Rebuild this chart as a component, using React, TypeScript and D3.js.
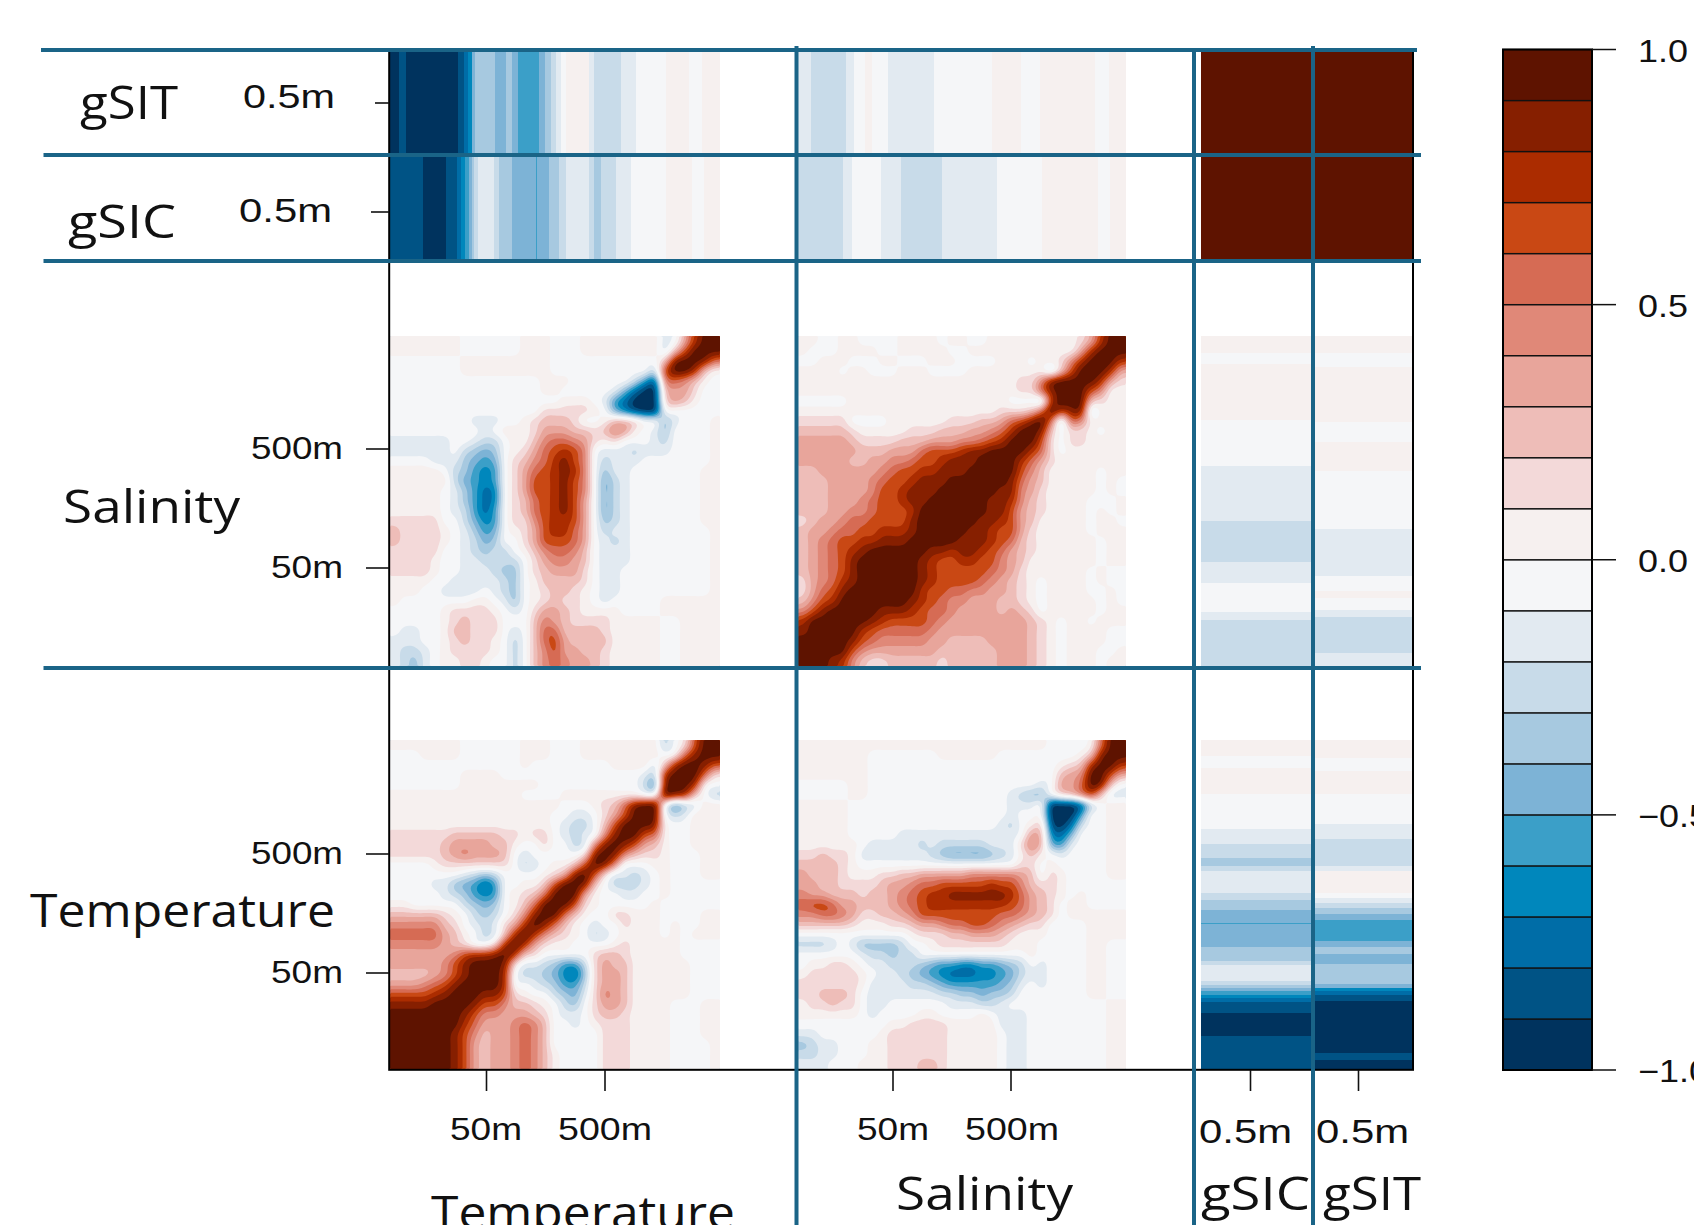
import React from "react";
import * as d3 from "d3";

// Correlation levels, one char per depth bin: a..j = -0.05..-0.95, 0..9 = 0.05..0.95
const LEVEL_COLORS = ["#00335E","#005385","#006DA7","#0087BC","#3B9FC8","#7DB3D6","#A7C9E0","#C8DBE9","#E2EAF1","#F5F6F8","#F6F0EF","#F3D9D9","#EEBDB8","#E8A59B","#E08878","#D66B54","#C94814","#AB2C00","#861F00","#5E1300"];
const COLORBAR_TICKS = [-1, -0.5, 0, 0.5, 1];
const DEPTH_TICKS = ["50m", "500m"];
const SEA_ICE_TICK = "0.5m";

// Salinity (rows, top = deepest) against temperature (columns, left = shallowest)
const SAL_TEMP = [
"0000000aaaaaa000aaa00000000ba3799",
"0000000aaaaaa000aaa00000000b26999",
"aaaaaaa000000000aaaaaaaaaaa289985",
"aaaaaaa000000000aaaaaaaaaac699720",
"aaaaaaaaaaaaaaa000aaaaaacfh45420a",
"aaaaaaaaaaaaaaa00aaaaabehjj2331aa",
"aaaaaaaaaaaaaaaaa000abfhjjj1320aa",
"aaaaaaaaaaaaaaa111110aegijjaaaaaa",
"aaaaaaaabbbaa012221aa0221aadbaaa0",
"aaaaaaaaaba00013332212430abdaaaa0",
"bbbbbbaabcca00245543101aaabcaaaa0",
"bbbbbbacdeda01356764abbbcbbbaaaa0",
"aaaabbbdefea12457864acbbbaaaaaaa0",
"00000acdfgfa13567874adbbaaaaaaa00",
"000000cefgfa13667864aecbaaaaaaa00",
"00000abdfhga13667864aecbaaaaaaa00",
"00000abdfhga12567863aecbaaaaaaa00",
"00000abcfhfa12567863aecbaaaaaaa00",
"11111aacegfa11467763adcbaaaaaaa00",
"211110abdfea01367753acbbaaaaaaaa0",
"211110abcedaa1366653abcbaaaaaaaa0",
"11111aabcdcca0245542abbbaaaaaaaa0",
"11110aabbcccca134432abbbaaaaaaaa0",
"11110aabbbcdda123331abbaaaaaaaaa0",
"0000aabbbbbcda022221abbaaaaaaaaa0",
"000aabbbbabcda012210abbaaaaaaaaa0",
"0aaaaaaa00abda012110abaaaaa000000",
"aaaaa011110aba133210000aaaa000000",
"aaaaa012111aaa2432111100000aa0000",
"abbaa022111aba2552222100000aa0000",
"bbbaa012110aca2563222200000aa0000",
"bccba011110aca2463322100000aa0000",
"bcdba00110aaca2454332100000aa0000",
];

// Temperature against itself: upper-left triangle, row r has 33-r bins, ends on the diagonal
const TEMP_TEMP = [
"0000000aaaaaa000aaa00000000ca1699",
"aaa0000aaaaaa000aaa00000000a0589",
"aaaaaaaaaaaaa0aaaaaaaa0000b2799",
"aaaaaaa0000aaaaaaaaaaaaaabc799",
"aaaaaaa00000000aaaaaaaaaace89",
"0000000000000aaaa00000000aa9",
"00000000000000000aaa0125899",
"0000000000000000aabba13699",
"0000000000000000abcca2699",
"1111112222211011abcba489",
"1111123333220aa1aacb489",
"111112343332abaaaaa189",
"aaaa01111111acba00269",
"aaaaaaabcdcaaaa01389",
"aaaabbdefhfaa002699",
"aaaaabcdfgfa012599",
"00aaaaacdeda02599",
"2222210acdca1489",
"4444421abcb1379",
"55555320acb279",
"44444321aa179",
"333333467789",
"33333468999",
"2222346899",
"333456899",
"66667899",
"8888999",
"999999",
"99999",
"9999",
"999",
"99",
"9",
];

// Salinity against itself, same layout
const SAL_SAL = [
"00aa00aaaa0000a00aa00000000013799",
"0aaa0000aa00000aa000000000003799",
"aa000aaa00aaa000aaaa000a0014799",
"0000a00aaa000aaaa00000000b2699",
"00000000000000000000001148999",
"0000000000000000000000115899",
"aaaaa0000000000000000aaab79",
"00000000000000000000111259",
"11111aaaa0000001112235689",
"222221000001112223345799",
"33333211112223334456799",
"3333332223335666788999",
"333332233445667888999",
"22333333456677888999",
"2223333456678889999",
"222333346678889999",
"22233345667889999",
"2223344566679999",
"123345566668999",
"23345566777899",
"2345667788899",
"234567899999",
"23456899999",
"2345689999",
"134578999",
"13568999",
"2467999",
"468999",
"79999",
"8999",
"999",
"99",
"9",
];

// Sea ice against depth: end of each band (percent of the depth axis) and its level
const GSIT_TEMP_ENDS = [2.7,4.8,20.7,22.5,23.7,24.7,25.9,31.8,35.1,37.1,38.8,45.2,47.1,48.9,50.4,51.9,53.4,60.3,61.8,70.0,74.4,83.6,90.5,94.4,100];
const GSIT_TEMP_LEVELS = "jijihgededefedcba0bcba0a0";
const GSIC_TEMP_ENDS = [10,17,20.4,21.6,22.6,23.8,24.7,25.6,26.8,31.5,32.9,37,44.2,44.4,48.3,51.3,53.4,60.3,61.8,64,68.5,72.9,83.6,91.6,95.2,100];
const GSIC_TEMP_LEVELS = "ijihgfedcbcdefedcbcdcba0a0";
const GSIT_SAL_ENDS = [3.9,14.7,17.1,20.5,22.6,27.4,41.5,59.2,67.9,73.9,90.5,94.8,100];
const GSIT_SAL_LEVELS = "bcba0aba0a0a0";
const GSIC_SAL_ENDS = [13.8,16.5,25.3,31.4,43.9,60.6,74.4,91.4,95,100];
const GSIC_SAL_LEVELS = "cbabcba0a0";

const N = 33;
const UP = 5;
const W = N * UP;
const THRESHOLDS = d3.range(20).map((k) => -1 + k * 0.1);

function levelValue(ch: string): number {
  const code = ch.charCodeAt(0);
  if (code >= 48 && code <= 57) return (code - 48) * 0.1 + 0.05;
  return -((code - 97) * 0.1 + 0.05);
}
function levelIndex(ch: string): number {
  const v = levelValue(ch);
  return Math.min(19, Math.floor((v + 1) / 0.1 + 1e-6));
}

type Getter = (r: number, c: number) => number;

const fromFull = (rows: string[]): Getter => (r, c) => {
  const row = rows[r];
  return levelValue(row[Math.min(c, row.length - 1)]);
};
// transposed view: x = salinity, y = temperature from the bottom
const fromTransposed = (rows: string[]): Getter => (r, c) => {
  const row = rows[N - 1 - c];
  return levelValue(row[Math.min(N - 1 - r, row.length - 1)]);
};
const fromTriangle = (rows: string[]): Getter => (r, c) => {
  const i = c;
  const j = N - 1 - r;
  const hi = Math.max(i, j);
  const lo = Math.min(i, j);
  const row = rows[N - 1 - hi];
  return levelValue(row[Math.min(lo, row.length - 1)]);
};

function catmull(p0: number, p1: number, p2: number, p3: number, t: number) {
  return 0.5 * (2 * p1 + (p2 - p0) * t + (2 * p0 - 5 * p1 + 4 * p2 - p3) * t * t + (3 * p1 - p0 - 3 * p2 + p3) * t * t * t);
}

function upsample(get: Getter): number[] {
  const cl = (v: number) => Math.max(0, Math.min(N - 1, v));
  const out: number[] = new Array(W * W);
  for (let y = 0; y < W; y++) {
    const fy = (y + 0.5) / UP - 0.5;
    const r = Math.floor(fy);
    const ty = fy - r;
    for (let x = 0; x < W; x++) {
      const fx = (x + 0.5) / UP - 0.5;
      const c = Math.floor(fx);
      const tx = fx - c;
      const col = [-1, 0, 1, 2].map((d) => {
        const rr = cl(r + d);
        return catmull(get(rr, cl(c - 1)), get(rr, cl(c)), get(rr, cl(c + 1)), get(rr, cl(c + 2)), tx);
      });
      const v = catmull(col[0], col[1], col[2], col[3], ty);
      out[y * W + x] = Math.max(-1, Math.min(1, v));
    }
  }
  d3.blur2({ data: out, width: W, height: W }, 1.2);
  return out.map((v) => Math.min(0.999, v));
}

const contourGen = d3.contours().size([W, W]).thresholds(THRESHOLDS);

function Panel({ get, x0, x1, y0, y1 }: { get: Getter; x0: number; x1: number; y0: number; y1: number }) {
  const paths = React.useMemo(() => {
    const sx = d3.scaleLinear().domain([0, W]).range([x0, x1]);
    const sy = d3.scaleLinear().domain([0, W]).range([y0, y1]);
    const path = d3.geoPath(
      d3.geoTransform({
        point(x: number, y: number) {
          (this as any).stream.point(sx(x), sy(y));
        },
      })
    );
    return contourGen(upsample(get)).map((c: any, i: number) => ({ d: path(c) || "", fill: LEVEL_COLORS[i] }));
  }, []);
  return (
    <g>
      {paths.map((p: any, i: number) => (
        <path key={i} d={p.d} fill={p.fill} />
      ))}
    </g>
  );
}

function bands(ends: number[], levels: string) {
  return ends.map((end, i) => ({ from: i === 0 ? 0 : ends[i - 1], to: end, color: LEVEL_COLORS[levelIndex(levels[i])] }));
}

function HStrip({ ends, levels, x0, x1, y0, y1 }: any) {
  const s = d3.scaleLinear().domain([0, 100]).range([x0, x1]);
  return (
    <g shapeRendering="crispEdges">
      {bands(ends, levels).map((b, i) => (
        <rect key={i} x={s(b.from)} width={s(b.to) - s(b.from)} y={y0} height={y1 - y0} fill={b.color} />
      ))}
    </g>
  );
}
function VStrip({ ends, levels, x0, x1, y0, y1 }: any) {
  const s = d3.scaleLinear().domain([0, 100]).range([y1, y0]);
  return (
    <g shapeRendering="crispEdges">
      {bands(ends, levels).map((b, i) => (
        <rect key={i} x={x0} width={x1 - x0} y={s(b.to)} height={s(b.from) - s(b.to)} fill={b.color} />
      ))}
    </g>
  );
}

const BLUE = "#1A6487";
const HEAD = "'Open Sans', sans-serif";
const BODY = "'Liberation Sans', Arial, sans-serif";

function Label({ x, y, w, text, size, font }: any) {
  return (
    <text x={x} y={y} fontFamily={font} fontSize={size} textLength={w} lengthAdjust="spacingAndGlyphs" fill="#111">
      {text}
    </text>
  );
}

export default function App() {
  const T = { x0: 390, x1: 720 };
  const S = { x0: 798, x1: 1126 };
  const rowS = { y0: 336, y1: 666 };
  const rowT = { y0: 740, y1: 1069 };
  const cbY = d3.scaleLinear().domain([-1, 1]).range([1070, 49.5]);
  const binEdges = d3.range(21).map((k) => -1 + k * 0.1);

  return (
    <svg width={1694} height={1225} viewBox="0 0 1694 1225" style={{ position: "absolute", left: 0, top: 0, display: "block" }}>
      <rect width={1694} height={1225} fill="#fff" />

      <Panel get={fromFull(SAL_TEMP)} {...T} {...rowS} />
      <Panel get={fromTriangle(SAL_SAL)} {...S} {...rowS} />
      <Panel get={fromTriangle(TEMP_TEMP)} {...T} {...rowT} />
      <Panel get={fromTransposed(SAL_TEMP)} {...S} {...rowT} />

      <HStrip ends={GSIT_TEMP_ENDS} levels={GSIT_TEMP_LEVELS} {...T} y0={50} y1={155} />
      <HStrip ends={GSIC_TEMP_ENDS} levels={GSIC_TEMP_LEVELS} {...T} y0={155} y1={260} />
      <HStrip ends={GSIT_SAL_ENDS} levels={GSIT_SAL_LEVELS} {...S} y0={50} y1={155} />
      <HStrip ends={GSIC_SAL_ENDS} levels={GSIC_SAL_LEVELS} {...S} y0={155} y1={260} />

      <VStrip ends={GSIC_TEMP_ENDS} levels={GSIC_TEMP_LEVELS} x0={1201} x1={1311} {...rowT} />
      <VStrip ends={GSIT_TEMP_ENDS} levels={GSIT_TEMP_LEVELS} x0={1311} x1={1412} {...rowT} />
      <VStrip ends={GSIC_SAL_ENDS} levels={GSIC_SAL_LEVELS} x0={1201} x1={1311} {...rowS} />
      <VStrip ends={GSIT_SAL_ENDS} levels={GSIT_SAL_LEVELS} x0={1311} x1={1412} {...rowS} />

      <rect x={1201} y={50} width={211} height={210} fill={LEVEL_COLORS[19]} />

      {/* frame */}
      <rect x={389.2} y={50} width={1023.8} height={1019.8} fill="none" stroke="#000" strokeWidth={2} />

      {/* ticks */}
      <g stroke="#111" strokeWidth={1.6}>
        {[449, 568, 854, 973].map((y) => (
          <line key={y} x1={366} x2={389} y1={y} y2={y} />
        ))}
        <line x1={375} x2={389} y1={103} y2={103} />
        <line x1={371} x2={389} y1={212} y2={212} />
        {[486.5, 605, 893, 1011, 1250.5, 1358.5].map((x) => (
          <line key={x} x1={x} x2={x} y1={1070} y2={1091} />
        ))}
      </g>

      {/* tick labels */}
      <Label x={243} y={108} w={92} text={SEA_ICE_TICK} size={33} font={BODY} />
      <Label x={239} y={222} w={93} text={SEA_ICE_TICK} size={33} font={BODY} />
      <Label x={251} y={459} w={92} text={DEPTH_TICKS[1]} size={32} font={BODY} />
      <Label x={271} y={578} w={72} text={DEPTH_TICKS[0]} size={32} font={BODY} />
      <Label x={251} y={864} w={92} text={DEPTH_TICKS[1]} size={32} font={BODY} />
      <Label x={271} y={983} w={72} text={DEPTH_TICKS[0]} size={32} font={BODY} />
      <Label x={450} y={1140} w={72} text={DEPTH_TICKS[0]} size={32} font={BODY} />
      <Label x={558} y={1140} w={94} text={DEPTH_TICKS[1]} size={32} font={BODY} />
      <Label x={857} y={1140} w={72} text={DEPTH_TICKS[0]} size={32} font={BODY} />
      <Label x={965} y={1140} w={94} text={DEPTH_TICKS[1]} size={32} font={BODY} />
      <Label x={1199} y={1143} w={93} text={SEA_ICE_TICK} size={33} font={BODY} />
      <Label x={1316} y={1143} w={93} text={SEA_ICE_TICK} size={33} font={BODY} />

      {/* variable titles */}
      <Label x={80} y={119} w={98} text="gSIT" size={46} font={HEAD} />
      <Label x={68} y={238} w={108} text="gSIC" size={46} font={HEAD} />
      <Label x={63} y={523} w={177} text="Salinity" size={46} font={HEAD} />
      <Label x={30} y={927} w={305} text="Temperature" size={46} font={HEAD} />
      <Label x={431} y={1229} w={304} text="Temperature" size={46} font={HEAD} />
      <Label x={896} y={1210} w={177} text="Salinity" size={46} font={HEAD} />
      <Label x={1201} y={1210} w={109} text="gSIC" size={46} font={HEAD} />
      <Label x={1323} y={1210} w={98} text="gSIT" size={46} font={HEAD} />

      {/* colour key */}
      <g>
        {LEVEL_COLORS.map((c, i) => (
          <rect key={i} x={1503} width={89} y={cbY(binEdges[i + 1])} height={cbY(binEdges[i]) - cbY(binEdges[i + 1])} fill={c} stroke="#111" strokeWidth={1.3} />
        ))}
        <rect x={1503} y={cbY(1)} width={89} height={cbY(-1) - cbY(1)} fill="none" stroke="#000" strokeWidth={2} />
        {COLORBAR_TICKS.map((t) => (
          <g key={t}>
            <line x1={1592} x2={1616} y1={cbY(t)} y2={cbY(t)} stroke="#111" strokeWidth={1.5} />
            <text transform={`translate(1638,${cbY(t) + 12}) scale(1.16,1)`} fontFamily={BODY} fontSize={31} fill="#111">
              {d3.format(".1f")(t).replace("-", "\u2212")}
            </text>
          </g>
        ))}
      </g>

      {/* separators */}
      <g stroke={BLUE} strokeWidth={4}>
        <line x1={41} x2={1417} y1={50} y2={50} />
        <line x1={43.5} x2={1421} y1={155} y2={155} />
        <line x1={43.5} x2={1421} y1={261} y2={261} />
        <line x1={43.5} x2={1421} y1={668} y2={668} />
        <line x1={796.5} x2={796.5} y1={46} y2={1225} />
        <line x1={1194} x2={1194} y1={50} y2={1225} />
        <line x1={1313} x2={1313} y1={46} y2={1225} />
      </g>
    </svg>
  );
}
